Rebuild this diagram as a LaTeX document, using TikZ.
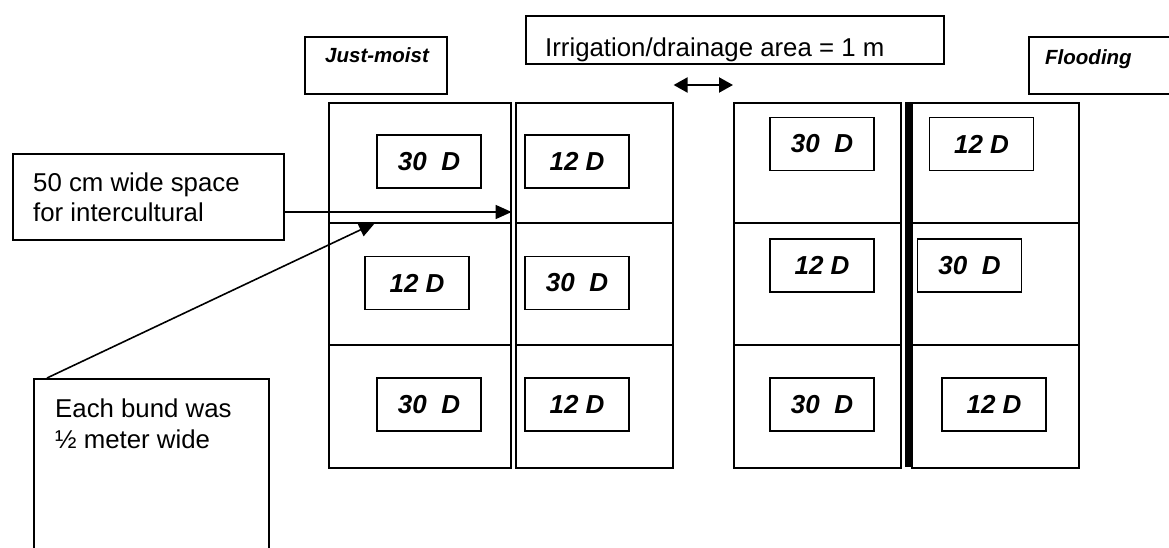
\documentclass[tikz,border=0pt]{standalone}
\usepackage{fontspec}
\setmainfont{Liberation Sans}
\usetikzlibrary{arrows.meta,positioning}

\tikzset{
  plotcol/.style={draw, line width=1.6pt, inner sep=0pt, anchor=north west,
    minimum height=365pt, minimum width=#1},
  doselbl/.style={draw, line width=1.6pt, inner sep=0pt, minimum width=104pt,
    minimum height=53pt, font=\fontsize{26}{30}\selectfont\bfseries\itshape},
  notebox/.style={draw, line width=1.6pt, inner sep=0pt, anchor=north west},
  notetxt/.style={anchor=base west, inner sep=0pt},
  tagtxt/.style={anchor=base west, inner sep=0pt,
    font=\fontsize{20.5}{24}\selectfont\bfseries\itshape},
  callout/.style={line width=1.6pt, -{Triangle[length=16pt,width=14pt]}},
  gaparrow/.style={line width=2.2pt,
    {Triangle[length=14pt,width=15pt]}-{Triangle[length=14pt,width=15pt]}}
}

\begin{document}
\begin{tikzpicture}[x=1pt, y=-1pt, font=\fontsize{25.8}{30}\selectfont]
\useasboundingbox (0,0) rectangle (1169,548);

% headings
\node[notebox, minimum width=142pt, minimum height=57pt] (jmbox) at (304,36) {};
\node[tagtxt] (jmtxt) at (325,63) {Just-moist};
\node[notebox, minimum width=418pt, minimum height=48pt] (irrbox) at (525,15) {};
\node[notetxt] (irrtxt) at (545,57) {Irrigation/drainage area = 1 m};
\node[notebox, minimum width=160pt, minimum height=57pt] (flbox) at (1028,36) {};
\node[tagtxt] (fltxt) at (1045,65) {Flooding};

% plots
\node[plotcol=182pt] (jmA) at (328,102) {};
\node[plotcol=157pt] (jmB) at (515,102) {};
\node[plotcol=167pt] (flA) at (733,102) {};
\node[plotcol=167pt] (flB) at (911,102) {};
\draw[line width=6pt] (908,102) -- (908,467);
\foreach \y in {223,345} {
  \draw[line width=1.6pt] (328,\y) -- (510,\y) (515,\y) -- (672,\y);
  \draw[line width=1.6pt] (733,\y) -- (900,\y) (911,\y) -- (1078,\y);
}
\foreach \n/\x/\y/\t in {j1/429/161.5/30~~D, j2/577/161.5/12 D,
                         j3/417/283/12 D,     j4/577/283/30~~D,
                         j5/429/404.5/30~~D,  j6/577/404.5/12 D,
                         f1/822/144/30~~D,    f2/981.5/144/12 D,
                         f3/822/265.5/12 D,   f4/969.5/265.5/30~~D,
                         f5/822/404.5/30~~D,  f6/994/404.5/12 D} {
  \node[doselbl] (\n) at (\x,\y) {\t};
}

% notes
\node[notebox, minimum width=271pt, minimum height=86pt] (space) at (12,153) {};
\node[notetxt] (spacetxa) at (33,192) {50 cm wide space};
\node[notetxt] (spacetxb) at (33,222) {for intercultural};
\node[notebox, minimum width=235pt, minimum height=200pt] (bund) at (33,378) {};
\node[notetxt] (bundtxa) at (55,417) {Each bund was};
\node[notetxt] (bundtxb) at (55,448) {½ meter wide};

% arrows
\coordinate (spaceout) at (283,212);
\coordinate (bundtip) at (375,223);
\coordinate (gapmid) at (702,85);
\draw[callout] (spaceout) -- (spaceout -| jmA.east);
\draw[callout] ([xshift=14pt]bund.north west) -- (bundtip);
\draw[gaparrow] (gapmid -| jmB.east) -- (gapmid -| flA.west);
\end{tikzpicture}
\end{document}
